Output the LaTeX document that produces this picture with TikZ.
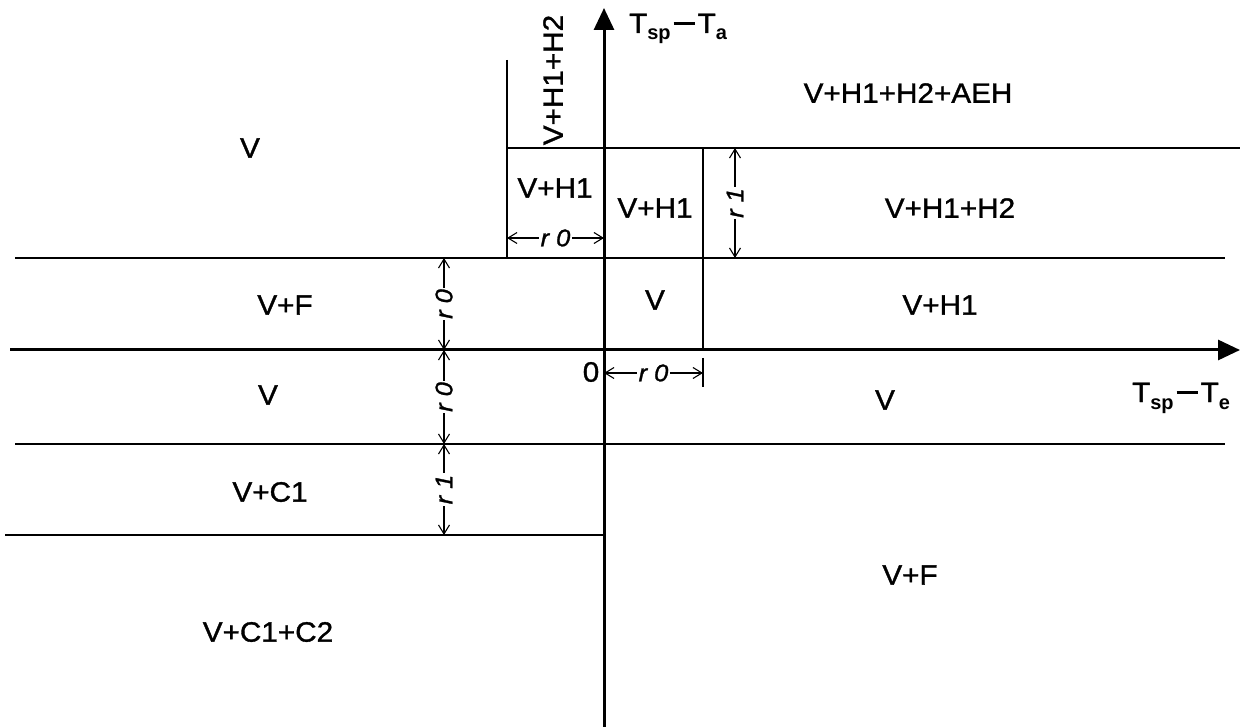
\documentclass[tikz,border=0pt]{standalone}
\usepackage{fontspec}
\setmainfont[FakeStretch=1.06,FakeBold=1.2]{Liberation Sans}
\newfontfamily\subfont{Liberation Sans Bold}
\usetikzlibrary{arrows.meta}
\newcommand{\axlab}[1]{{\fontsize{28}{30}\selectfont T\raisebox{-7pt}{\subfont\fontsize{20}{22}\selectfont sp}\hspace{3pt}\rule[8pt]{21pt}{3pt}\hspace{3pt}T\raisebox{-7pt}{\subfont\fontsize{20}{22}\selectfont #1}}}
\newcommand{\dl}[1]{r\kern 7pt #1}
\begin{document}
\begin{tikzpicture}[x=1pt,y=-1pt,
  thin line/.style={line width=1.4pt},
  axis/.style={line width=3pt,-{Triangle[length=22pt,width=20pt]}},
  dim/.style={line width=1.1pt,{Straight Barb[length=9pt,width=11pt]}-{Straight Barb[length=9pt,width=11pt]}},
  dimlabel/.style={fill=white,inner sep=1.5pt,font=\fontsize{24}{26}\selectfont\itshape},
  lbl/.style={inner sep=0pt,font=\fontsize{28}{30}\selectfont}]
\useasboundingbox (0,0) rectangle (1240,727);
% coordinates
\coordinate (ab) at (604,727);
\coordinate (at) at (604,8);
\coordinate (al) at (10,350);
\coordinate (ar) at (1240,350);
\coordinate (a1) at (507,148); \coordinate (a2) at (1240,148);
\coordinate (b1) at (15,258); \coordinate (b2) at (1225,258);
\coordinate (c1) at (15,444); \coordinate (c2) at (1225,444);
\coordinate (d1) at (5,535); \coordinate (d2) at (604,535);
\coordinate (e1) at (507,60); \coordinate (e2) at (507,258);
\coordinate (f1) at (703,148); \coordinate (f2) at (703,350);
\coordinate (g1) at (703,358); \coordinate (g2) at (703,387);
% dimension endpoints
\coordinate (h1) at (507,238); \coordinate (h2) at (604,238);
\coordinate (i1) at (735,148); \coordinate (i2) at (735,258);
\coordinate (j1) at (444,258); \coordinate (j2) at (444,350);
\coordinate (j3) at (444,444); \coordinate (j4) at (444,535);
\coordinate (k1) at (604,373); \coordinate (k2) at (703,373);
% region lines
\draw[thin line] (a1) -- (a2);
\draw[thin line] (b1) -- (b2);
\draw[thin line] (c1) -- (c2);
\draw[thin line] (d1) -- (d2);
\draw[thin line] (e1) -- (e2);
\draw[thin line] (f1) -- (f2);
\draw[thin line] (g1) -- (g2);
% axes
\draw[axis] (ab) -- (at);
\draw[axis] (al) -- (ar);
% dimensions
\draw[dim] (h1) -- node[dimlabel] (dh) {\dl{0}} (h2);
\draw[dim] (i1) -- node[dimlabel,rotate=90] (di) {\dl{1}} (i2);
\draw[dim] (j1) -- node[dimlabel,rotate=90] (dj1) {\dl{0}} (j2);
\draw[dim] (j2) -- node[dimlabel,rotate=90] (dj2) {\dl{0}} (j3);
\draw[dim] (j3) -- node[dimlabel,rotate=90] (dj3) {\dl{1}} (j4);
\draw[dim] (k1) -- node[dimlabel] (dk) {\dl{0}} (k2);
% labels
\node[lbl] (o) at (591,372) {0};
\node[inner sep=0pt,anchor=base west] (ya) at (629,33) {\axlab{a}};
\node[inner sep=0pt,anchor=base west] (xa) at (1132,402) {\axlab{e}};
\node[lbl] (r1) at (250,148) {V};
\node[lbl,rotate=90] (r2) at (553,80) {V+H1+H2};
\node[lbl] (r3) at (908,93) {V+H1+H2+AEH};
\node[lbl] (r4) at (555,188) {V+H1};
\node[lbl] (r5) at (655,208) {V+H1};
\node[lbl] (r6) at (950,208) {V+H1+H2};
\node[lbl] (r7) at (285,305) {V+F};
\node[lbl] (r8) at (655,300) {V};
\node[lbl] (r9) at (940,305) {V+H1};
\node[lbl] (r10) at (268,395) {V};
\node[lbl] (r11) at (885,400) {V};
\node[lbl] (r12) at (270,492) {V+C1};
\node[lbl] (r13) at (910,575) {V+F};
\node[lbl] (r14) at (268,632) {V+C1+C2};
\end{tikzpicture}
\end{document}
